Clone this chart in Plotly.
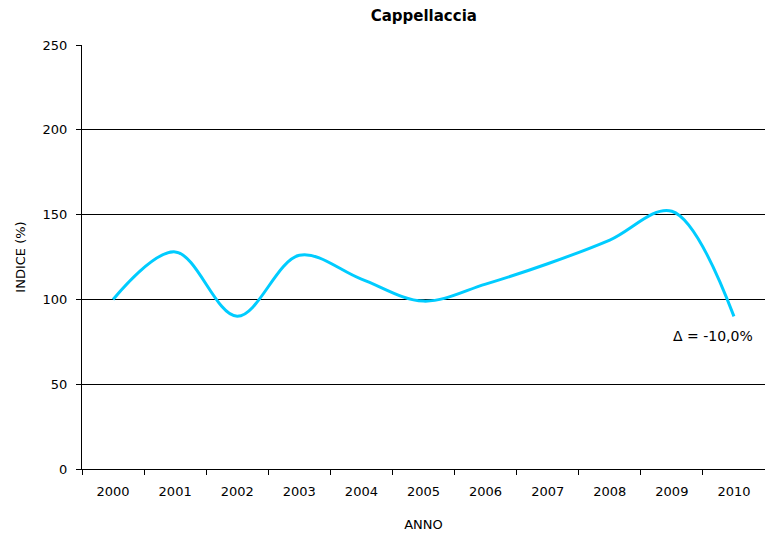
import plotly.graph_objects as go

years = ["2000", "2001", "2002", "2003", "2004", "2005", "2006", "2007", "2008", "2009", "2010"]
indice = [100, 128, 90, 126, 112, 99, 109, 121, 135, 152, 90]
y_ticks = [0, 50, 100, 150, 200, 250]
delta_label = "Δ = -10,0%"

font_family = "DejaVu Sans, Verdana, sans-serif"

fig = go.Figure()
fig.add_trace(go.Scatter(
    x=years, y=indice, mode="lines",
    line=dict(color="#00CCFF", width=3, shape="spline", smoothing=1.0),
    showlegend=False, hoverinfo="x+y",
))

fig.add_annotation(
    x=9.66, y=78.5, xref="x", yref="y", text=delta_label, showarrow=False,
    font=dict(family=font_family, size=14, color="black"),
)

fig.update_layout(
    width=765, height=536,
    margin=dict(l=82, r=0, t=45, b=67),
    paper_bgcolor="white", plot_bgcolor="white",
    title=dict(text="<b>Cappellaccia</b>", x=0.554, xanchor="center", y=0.97, yanchor="middle",
               font=dict(family=font_family, size=15, color="black")),
    font=dict(family=font_family, size=13, color="black"),
    xaxis=dict(
        type="category", range=[-0.5, 10.5],
        showline=True, linecolor="black", linewidth=1,
        ticks="outside", tickson="boundaries", ticklen=5, tickcolor="black",
        ticklabelstandoff=10,
        showgrid=False,
        title=dict(text="ANNO", font=dict(size=13), standoff=22),
        tickfont=dict(size=13),
    ),
    yaxis=dict(
        range=[0, 250], tickvals=y_ticks,
        showline=True, linecolor="black", linewidth=1,
        ticks="outside", ticklen=5, tickcolor="black",
        ticklabelstandoff=6,
        showgrid=True, gridcolor="black", gridwidth=1,
        zeroline=False,
        title=dict(text="INDICE (%)", font=dict(size=13), standoff=14),
        tickfont=dict(size=13),
    ),
)

fig.write_html("out.html")
